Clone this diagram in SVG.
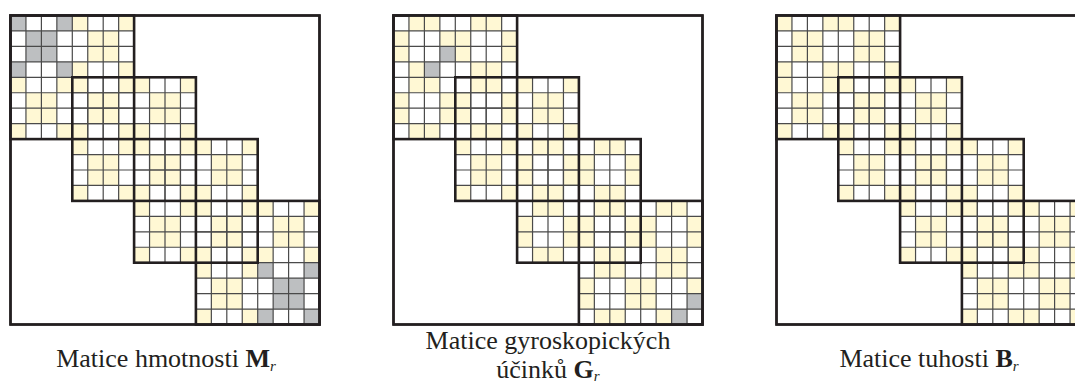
<svg xmlns="http://www.w3.org/2000/svg" xmlns:xlink="http://www.w3.org/1999/xlink" width="1075" height="385" viewBox="0 0 1075 385">
<style>
.y{fill:#fff8d4}
.g{fill:#bdbfc1}
.grid{fill:none;stroke:#4a4a4a;stroke-width:1.2}
.blk{fill:none;stroke:#231f20;stroke-width:2.6}
.outer{fill:#fff;stroke:#231f20;stroke-width:2.4}
.cap{font-family:"Liberation Serif","DejaVu Serif",serif;font-size:26px;fill:#231f20;text-anchor:middle}
.sub{font-size:15px;font-style:italic}
</style>
<defs>
<g id="pB">
<rect x="0" y="0" width="15.45" height="15.45"/>
<rect x="46.35" y="0" width="15.45" height="15.45"/>
<rect x="15.45" y="15.45" width="30.9" height="30.9"/>
<rect x="0" y="46.35" width="15.45" height="15.45"/>
<rect x="46.35" y="46.35" width="15.45" height="15.45"/>
</g>
<g id="pA">
<rect x="15.45" y="0" width="30.9" height="15.45"/>
<rect x="15.45" y="46.35" width="30.9" height="15.45"/>
<rect x="0" y="15.45" width="15.45" height="30.9"/>
<rect x="46.35" y="15.45" width="15.45" height="30.9"/>
</g>
<path id="grid8" class="grid" d="M15.45 0V123.6M30.9 0V123.6M46.35 0V123.6M61.8 0V123.6M77.25 0V123.6M92.7 0V123.6M108.15 0V123.6M0 15.45H123.6M0 30.9H123.6M0 46.35H123.6M0 61.8H123.6M0 77.25H123.6M0 92.7H123.6M0 108.15H123.6"/>
<g id="gridAll">
<use xlink:href="#grid8" x="0" y="0"/>
<use xlink:href="#grid8" x="61.8" y="61.8"/>
<use xlink:href="#grid8" x="123.6" y="123.6"/>
<use xlink:href="#grid8" x="185.4" y="185.4"/>
</g>
<g id="blocks">
<rect class="blk" x="0" y="0" width="123.6" height="123.6"/>
<rect class="blk" x="61.8" y="61.8" width="123.6" height="123.6"/>
<rect class="blk" x="123.6" y="123.6" width="123.6" height="123.6"/>
<rect class="blk" x="185.4" y="185.4" width="123.6" height="123.6"/>
</g>
</defs>

<g id="matrix-M" transform="translate(10.5,15.5)">
<rect class="outer" x="0" y="0" width="309" height="309"/>
<use xlink:href="#pB" x="0" y="0" class="g"/>
<use xlink:href="#pB" x="61.8" y="0" class="y"/>
<use xlink:href="#pB" x="0" y="61.8" class="y"/>
<use xlink:href="#pB" x="61.8" y="61.8" class="y"/>
<use xlink:href="#pB" x="123.6" y="61.8" class="y"/>
<use xlink:href="#pB" x="61.8" y="123.6" class="y"/>
<use xlink:href="#pB" x="123.6" y="123.6" class="y"/>
<use xlink:href="#pB" x="185.4" y="123.6" class="y"/>
<use xlink:href="#pB" x="123.6" y="185.4" class="y"/>
<use xlink:href="#pB" x="185.4" y="185.4" class="y"/>
<use xlink:href="#pB" x="247.2" y="185.4" class="y"/>
<use xlink:href="#pB" x="185.4" y="247.2" class="y"/>
<use xlink:href="#pB" x="247.2" y="247.2" class="g"/>
<use xlink:href="#gridAll"/>
<use xlink:href="#blocks"/>
<rect x="0" y="0" width="309" height="309" fill="none" stroke="#231f20" stroke-width="2.4"/>
</g>

<g id="matrix-G" transform="translate(393.5,15.5)">
<rect class="outer" x="0" y="0" width="309" height="309"/>
<use xlink:href="#pA" x="0" y="0" class="y"/>
<use xlink:href="#pA" x="61.8" y="0" class="y"/>
<use xlink:href="#pA" x="0" y="61.8" class="y"/>
<use xlink:href="#pA" x="61.8" y="61.8" class="y"/>
<use xlink:href="#pB" x="123.6" y="61.8" class="y"/>
<use xlink:href="#pB" x="61.8" y="123.6" class="y"/>
<use xlink:href="#pA" x="123.6" y="123.6" class="y"/>
<use xlink:href="#pA" x="185.4" y="123.6" class="y"/>
<use xlink:href="#pA" x="123.6" y="185.4" class="y"/>
<use xlink:href="#pA" x="185.4" y="185.4" class="y"/>
<use xlink:href="#pA" x="247.2" y="185.4" class="y"/>
<use xlink:href="#pA" x="185.4" y="247.2" class="y"/>
<use xlink:href="#pA" x="247.2" y="247.2" class="y"/>
<rect class="g" x="46.35" y="30.9" width="15.45" height="15.45"/>
<rect class="g" x="30.9" y="46.35" width="15.45" height="15.45"/>
<rect class="g" x="293.55" y="278.1" width="15.45" height="15.45"/>
<rect class="g" x="278.1" y="293.55" width="15.45" height="15.45"/>
<use xlink:href="#gridAll"/>
<use xlink:href="#blocks"/>
<rect x="0" y="0" width="309" height="309" fill="none" stroke="#231f20" stroke-width="2.4"/>
</g>

<g id="matrix-B" transform="translate(776.5,15.5)">
<rect class="outer" x="0" y="0" width="309" height="309"/>
<use xlink:href="#pB" x="0" y="0" class="y"/>
<use xlink:href="#pB" x="61.8" y="0" class="y"/>
<use xlink:href="#pB" x="0" y="61.8" class="y"/>
<use xlink:href="#pB" x="61.8" y="61.8" class="y"/>
<use xlink:href="#pB" x="123.6" y="61.8" class="y"/>
<use xlink:href="#pB" x="61.8" y="123.6" class="y"/>
<use xlink:href="#pB" x="123.6" y="123.6" class="y"/>
<use xlink:href="#pB" x="185.4" y="123.6" class="y"/>
<use xlink:href="#pB" x="123.6" y="185.4" class="y"/>
<use xlink:href="#pB" x="185.4" y="185.4" class="y"/>
<use xlink:href="#pB" x="247.2" y="185.4" class="y"/>
<use xlink:href="#pB" x="185.4" y="247.2" class="y"/>
<use xlink:href="#pB" x="247.2" y="247.2" class="y"/>
<use xlink:href="#gridAll"/>
<use xlink:href="#blocks"/>
<rect x="0" y="0" width="309" height="309" fill="none" stroke="#231f20" stroke-width="2.4"/>
</g>

<g id="caption-M">
<text class="cap" x="166" y="367">Matice hmotnosti <tspan font-weight="bold">M</tspan><tspan class="sub" dy="4">r</tspan></text>
</g>
<g id="caption-G">
<text class="cap" x="548" y="349">Matice gyroskopických</text>
<text class="cap" x="548" y="378">účinků <tspan font-weight="bold">G</tspan><tspan class="sub" dy="3">r</tspan></text>
</g>
<g id="caption-B">
<text class="cap" x="929" y="367">Matice tuhosti <tspan font-weight="bold">B</tspan><tspan class="sub" dy="4">r</tspan></text>
</g>
</svg>
